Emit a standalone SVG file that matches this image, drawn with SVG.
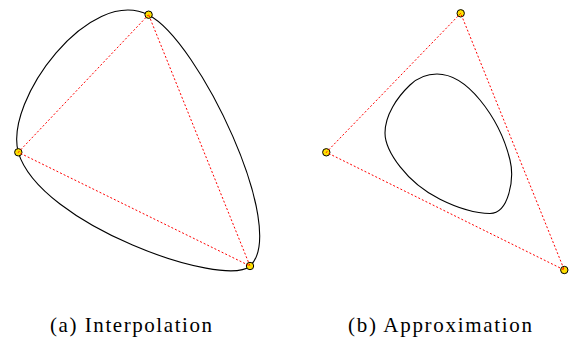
<svg xmlns="http://www.w3.org/2000/svg" width="570" height="337" viewBox="0 0 570 337">
<style>
.curve{fill:none;stroke:#000;stroke-width:1.1}
.poly{fill:none;stroke:#ff0000;stroke-width:1;stroke-dasharray:2 2}
.pt{fill:#ffe000;stroke:#000;stroke-width:1}
.cap{font-family:"Liberation Serif","DejaVu Serif",serif;font-size:21px;fill:#000}
</style>
<rect width="570" height="337" fill="#fff"/>
<g id="connectors">
<path class="curve" d="M148.5,15 C198.5,40 289.5,230 250,266 C224,289 40,225 18.3,152.3 C4,100 90,-15 148.5,15 Z"/>
<path class="curve" d="M437,74 C453.7,74 469.4,87.1 480,100 C494.2,117.3 504.7,138.2 510,160 C514.5,178.5 509,213.5 490,213.5 C472.7,213.5 455.5,207 440,199.3 C424.6,191.6 410.5,180.3 400,166.7 C392.5,157 385,145.3 385,133 C385,115 397,97.4 410,85 C417,78.3 427.3,74 437,74 Z"/>
</g>
<g id="a-top"><circle class="pt" cx="148.6" cy="14.7" r="3.7"/></g>
<g id="a-left"><circle class="pt" cx="18.3" cy="152.3" r="3.7"/></g>
<g id="a-right"><circle class="pt" cx="250" cy="266" r="3.7"/></g>
<g id="b-top"><circle class="pt" cx="460.7" cy="13.3" r="3.7"/></g>
<g id="b-left"><circle class="pt" cx="326.3" cy="152.3" r="3.7"/></g>
<g id="b-right"><circle class="pt" cx="564.3" cy="270" r="3.7"/></g>
<g id="polygons">
<path class="poly" d="M148.6,14.7 L18.3,152.3 L250,266 Z"/>
<path class="poly" d="M460.7,13.3 L326.3,152.3 L564.3,270 Z"/>
</g>
<g id="captions">
<text class="cap" x="50" y="332" textLength="162" lengthAdjust="spacing">(a) Interpolation</text>
<text class="cap" x="348" y="332" textLength="184" lengthAdjust="spacing">(b) Approximation</text>
</g>
</svg>
